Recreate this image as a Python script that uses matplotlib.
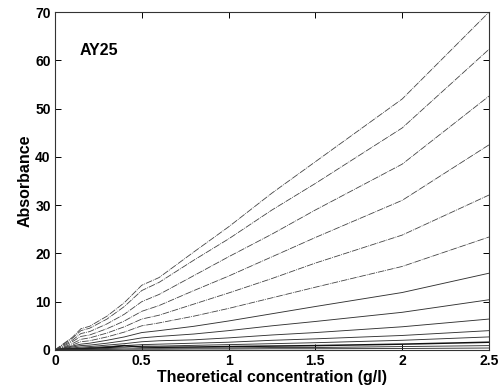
import matplotlib
matplotlib.use("Agg")
import matplotlib.pyplot as plt

plt.rcParams["font.family"] = ["Liberation Sans", "DejaVu Sans"]
plt.rcParams["font.weight"] = "bold"

# concentration grid (g/l)
conc = [0, 0.05, 0.1, 0.15, 0.2, 0.3, 0.4, 0.5, 0.6, 0.8, 1.0, 1.25, 1.5, 2.0, 2.5]

# absorbance curves, one per wavelength, highest first
curves = [
    [0, 1.3, 2.6, 4.4, 4.9, 7.0, 9.8, 13.4, 15.0, 20.3, 25.5, 32.5, 39.0, 52.0, 70.0],
    [0, 1.2, 2.4, 4.0, 4.5, 6.4, 9.0, 12.3, 14.0, 18.6, 23.0, 29.0, 34.5, 46.0, 62.3],
    [0, 1.0, 2.0, 3.4, 3.8, 5.4, 7.4, 10.0, 11.5, 15.4, 19.3, 24.0, 29.0, 38.5, 52.6],
    [0, 0.8, 1.7, 2.8, 3.1, 4.4, 6.0, 8.0, 9.2, 12.3, 15.3, 19.3, 23.3, 31.0, 42.5],
    [0, 0.6, 1.3, 2.2, 2.5, 3.5, 4.8, 6.4, 7.2, 9.5, 11.8, 14.8, 18.0, 23.8, 32.1],
    [0, 0.5, 1.0, 1.7, 1.9, 2.7, 3.7, 5.0, 5.6, 7.0, 8.6, 10.8, 13.0, 17.3, 23.4],
    [0, 0.4, 0.8, 1.2, 1.4, 2.0, 2.7, 3.6, 4.0, 4.9, 6.0, 7.5, 9.0, 11.9, 15.9],
    [0, 0.3, 0.6, 0.9, 1.0, 1.4, 1.9, 2.5, 2.8, 3.3, 4.0, 5.0, 5.9, 7.8, 10.4],
    [0, 0.2, 0.4, 0.6, 0.7, 1.0, 1.3, 1.7, 1.9, 2.1, 2.5, 3.1, 3.6, 4.8, 6.4],
    [0, 0.15, 0.3, 0.4, 0.5, 0.7, 0.9, 1.1, 1.2, 1.4, 1.6, 2.0, 2.3, 3.0, 4.0],
    [0, 0.1, 0.2, 0.3, 0.35, 0.5, 0.6, 0.8, 0.8, 0.95, 1.1, 1.3, 1.5, 2.0, 2.7],
    [0, 0.1, 0.15, 0.2, 0.3, 0.5, 0.9, 0.6, 0.55, 0.6, 0.7, 0.8, 0.9, 1.2, 1.6],
    [0, 0.05, 0.1, 0.15, 0.2, 0.3, 0.4, 0.35, 0.35, 0.4, 0.4, 0.5, 0.5, 0.7, 0.9],
    [0, 0.03, 0.05, 0.08, 0.1, 0.1, 0.15, 0.15, 0.15, 0.2, 0.2, 0.25, 0.25, 0.3, 0.4],
]

fig = plt.figure(figsize=(4.99, 3.91), dpi=100)
ax = fig.add_axes([0.110, 0.105, 0.870, 0.864])

for i, y in enumerate(curves):
    if i < 6:
        ax.plot(conc, y, color="#444444", lw=0.6, dashes=(8, 1.2, 1, 1.2))
    elif i == 11:
        ax.plot(conc, y, color="#111111", lw=1.1)
    else:
        ax.plot(conc, y, color="#333333", lw=0.65)

ax.set_xlim(0, 2.5)
ax.set_ylim(0, 70)
ax.set_xticks([0, 0.5, 1, 1.5, 2, 2.5])
ax.set_xticklabels(["0", "0.5", "1", "1.5", "2", "2.5"])
ax.set_yticks(range(0, 71, 10))
ax.tick_params(direction="in", length=4, width=0.7, top=True, right=True,
               labelsize=10, pad=3)
for lab in ax.get_xticklabels() + ax.get_yticklabels():
    lab.set_fontweight("bold")
for s in ax.spines.values():
    s.set_linewidth(0.8)
    s.set_color("#333333")

ax.set_xlabel("Theoretical concentration (g/l)", fontsize=11.5, fontweight="bold", labelpad=1)
ax.set_ylabel("Absorbance", fontsize=11.5, fontweight="bold", labelpad=2)
ax.text(0.14, 62, "AY25", fontsize=11.5, fontweight="bold", va="center")

fig.savefig("out.png", dpi=100)
